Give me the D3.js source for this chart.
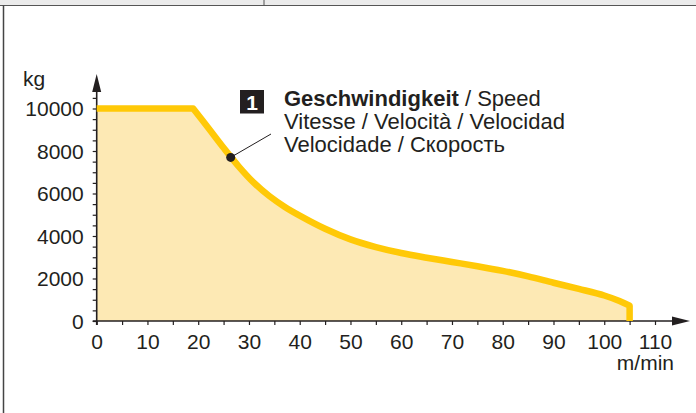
<!DOCTYPE html>
<html>
<head>
<meta charset="utf-8">
<script src="https://cdn.jsdelivr.net/npm/d3@7"></script>
<style>
  body { margin: 0; background: #fff; }
  svg { display: block; font-family: "Liberation Sans", Arial, sans-serif; }
</style>
</head>
<body>
<script>

// Chart values
var flat_speed = [0, 19];
var flat_load = [10000, 10000];
var curve_speed = [19, 22, 25, 28, 31, 34, 37, 40, 45, 50, 55, 60, 65, 70, 75, 80, 85, 90, 95, 100, 103, 105];
var curve_load = [10000, 9080, 8150, 7270, 6500, 5880, 5380, 4960, 4340, 3840, 3480, 3200, 2980, 2780, 2580, 2360, 2100, 1800, 1510, 1200, 940, 720];
var x_ticks = d3.range(0, 111, 5);
var y_ticks = d3.range(0, 10501, 500);
var label_lines = [
    [{ t: 'Geschwindigkeit', b: true }, { t: ' / Speed', b: false }],
    [{ t: 'Vitesse / Velocità / Velocidad', b: false }],
    [{ t: 'Velocidade / Скорость', b: false }]
];
var marker_speed = 26.4;
var marker_load = 7700;

var width = 696, height = 413;
var ink = '#231f20';

var svg = d3.select('body').append('svg')
    .attr('width', width)
    .attr('height', height);

// Frame of the page
svg.append('rect').attr('x', 0).attr('y', 0).attr('width', width).attr('height', 5.5).attr('fill', '#ebebeb');
svg.append('line').attr('x1', 0).attr('x2', width).attr('y1', 5.5).attr('y2', 5.5)
    .attr('stroke', '#555').attr('stroke-width', 1);
svg.append('line').attr('x1', 264).attr('x2', 264).attr('y1', 0).attr('y2', 5.5)
    .attr('stroke', '#555').attr('stroke-width', 1);
svg.append('line').attr('x1', 3.5).attr('x2', 3.5).attr('y1', 5.5).attr('y2', height)
    .attr('stroke', '#444').attr('stroke-width', 1.5);

// Scales
var x = d3.scaleLinear().domain([0, 110]).range([96.7, 655]);
var y = d3.scaleLinear().domain([0, 10000]).range([321, 108.5]);

var flat = flat_speed.map(function (v, i) { return [v, flat_load[i]]; });
var curve = curve_speed.map(function (v, i) { return [v, curve_load[i]]; });
var end_speed = curve_speed[curve_speed.length - 1];

var line_lin = d3.line().x(function (d) { return x(d[0]); }).y(function (d) { return y(d[1]); });
var line_smooth = d3.line().curve(d3.curveCatmullRom.alpha(0.5))
    .x(function (d) { return x(d[0]); }).y(function (d) { return y(d[1]); });

var top_path = line_lin(flat) + line_smooth(curve).replace(/^M/, 'L');

// Filled area under the curve
svg.append('path')
    .attr('d', 'M' + x(0) + ',' + y(0) + top_path.replace(/^M/, 'L') +
        'L' + x(end_speed) + ',' + y(0) + 'Z')
    .attr('fill', '#fde9b4');

// Axes
var axis_g = svg.append('g');
axis_g.append('line')
    .attr('x1', x(0) - 4).attr('x2', 676).attr('y1', y(0)).attr('y2', y(0))
    .attr('stroke', ink).attr('stroke-width', 1.6);
axis_g.append('path')
    .attr('d', 'M672,' + (y(0) - 4.5) + 'L690,' + y(0) + 'L672,' + (y(0) + 4.5) + 'Z')
    .attr('fill', ink);
axis_g.append('line')
    .attr('x1', x(0)).attr('x2', x(0)).attr('y1', y(0) + 4).attr('y2', 88)
    .attr('stroke', ink).attr('stroke-width', 1.6);
axis_g.append('path')
    .attr('d', 'M' + (x(0) - 4.5) + ',92L' + x(0) + ',74L' + (x(0) + 4.5) + ',92Z')
    .attr('fill', ink);

var xa = svg.append('g')
    .attr('transform', 'translate(0,' + y(0) + ')')
    .call(d3.axisBottom(x).tickValues(x_ticks).tickSize(4).tickSizeOuter(0)
        .tickFormat(function (d) { return d % 10 === 0 ? d : ''; }));
xa.select('.domain').remove();
xa.selectAll('line').attr('stroke', ink).attr('stroke-width', 1.2);
xa.selectAll('text').attr('y', 28).attr('dy', null)
    .attr('font-size', 21).attr('fill', ink);
xa.attr('font-family', null);

var ya = svg.append('g')
    .attr('transform', 'translate(' + x(0) + ',0)')
    .call(d3.axisLeft(y).tickValues(y_ticks).tickSize(4).tickSizeOuter(0)
        .tickFormat(function (d) { return d % 2000 === 0 && d <= 10000 ? d : ''; }));
ya.select('.domain').remove();
ya.selectAll('line').attr('stroke', ink).attr('stroke-width', 1.2);
ya.selectAll('text').attr('x', -13).attr('dy', '0.35em')
    .attr('font-size', 21).attr('fill', ink);
ya.attr('font-family', null);

svg.append('text').attr('x', 23).attr('y', 86).attr('font-size', 21).attr('fill', ink).text('kg');
svg.append('text').attr('x', 674).attr('y', 370).attr('text-anchor', 'end')
    .attr('font-size', 21).attr('fill', ink).text('m/min');

// Curve line
svg.append('path')
    .attr('d', top_path + 'L' + x(end_speed) + ',' + y(0))
    .attr('fill', 'none')
    .attr('stroke', '#ffc907')
    .attr('stroke-width', 6.5)
    .attr('stroke-linejoin', 'round');

// Callout
svg.append('line')
    .attr('x1', x(marker_speed)).attr('y1', y(marker_load))
    .attr('x2', 271).attr('y2', 134)
    .attr('stroke', ink).attr('stroke-width', 1);
svg.append('circle')
    .attr('cx', x(marker_speed)).attr('cy', y(marker_load)).attr('r', 4.5)
    .attr('fill', ink);

svg.append('rect').attr('x', 240).attr('y', 90).attr('width', 24).attr('height', 23.5).attr('fill', ink);
svg.append('text').attr('x', 252).attr('y', 109.5).attr('text-anchor', 'middle')
    .attr('font-size', 21).attr('font-weight', 'bold').attr('fill', '#fff').text('1');

var label = svg.append('text').attr('font-size', 22).attr('fill', ink);
label_lines.forEach(function (parts, i) {
    var tspan_line = label.append('tspan').attr('x', 284).attr('y', 106 + i * 23);
    parts.forEach(function (p, j) {
        var ts = j === 0 ? tspan_line : label.append('tspan');
        ts.text(p.t).attr('font-weight', p.b ? 'bold' : 'normal');
    });
});

</script>
</body>
</html>
